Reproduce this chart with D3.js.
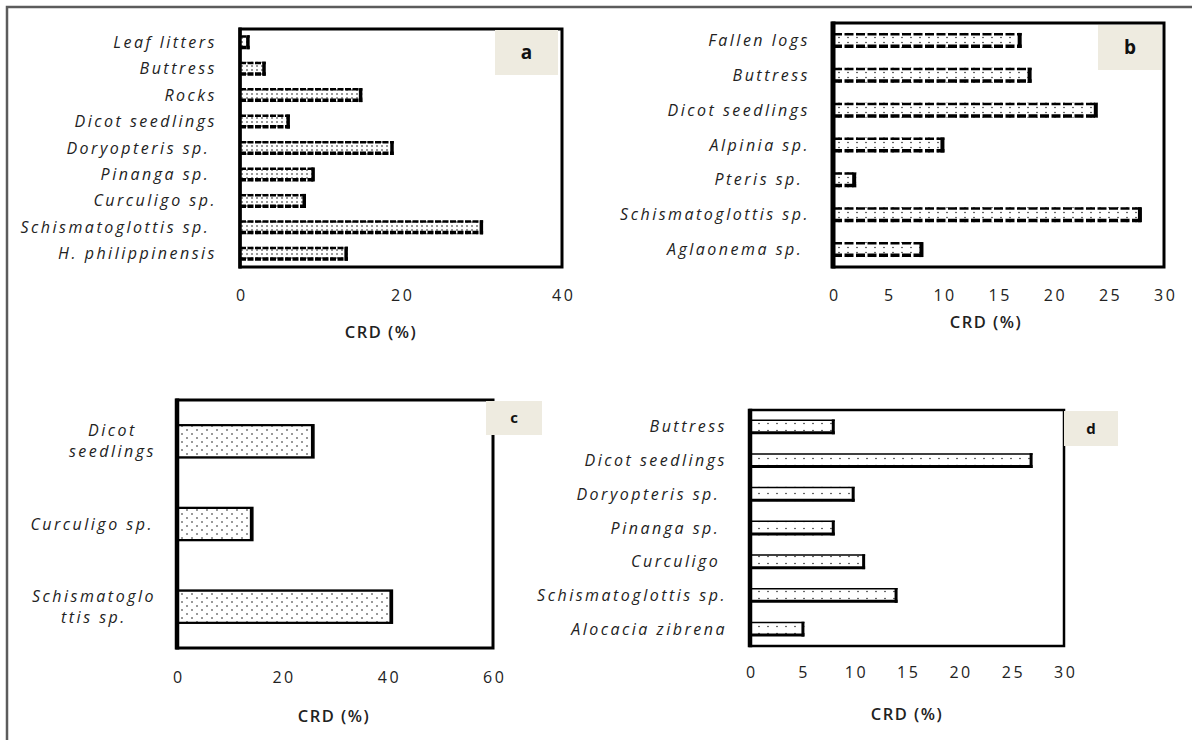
<!DOCTYPE html>
<html>
<head>
<meta charset="utf-8">
<script src="https://cdn.jsdelivr.net/npm/d3@7"></script>
<style>
body { margin: 0; background: #fff; }
text { font-family: "Open Sans", sans-serif; }
.cat { font-style: italic; font-size: 17px; letter-spacing: 1.2px; fill: #333; white-space: pre; }
.tick text { font-size: 16px; letter-spacing: 2.5px; fill: #222; }
.ttl { font-size: 16.5px; font-weight: 600; letter-spacing: 1.5px; fill: #222; }
</style>
</head>
<body>
<svg id="chart" width="1192" height="740"></svg>
<script>
// panel a
var catsA = ["Leaf litters", "Buttress", "Rocks", "Dicot seedlings", "Doryopteris sp. ", "Pinanga sp. ", "Curculigo sp.", "Schismatoglottis sp. ", "H. philippinensis"];
var valsA = [1.2, 3.2, 15.2, 6.2, 19.1, 9.3, 8.2, 30.2, 13.4];
var ticksA = [0, 20, 40];

// panel b
var catsB = ["Fallen logs", "Buttress", "Dicot seedlings", "Alpinia sp.", "Pteris sp. ", "Schismatoglottis sp.", "Aglaonema sp. "];
var valsB = [17.1, 18.0, 24.0, 10.1, 2.1, 28.0, 8.2];
var ticksB = [0, 5, 10, 15, 20, 25, 30];

// panel c (labels wrap onto two lines)
var catsC = [["Dicot", "seedlings"], ["Curculigo sp."], ["Schismatoglo", "ttis sp."]];
var valsC = [26.0, 14.4, 40.9];
var ticksC = [0, 20, 40, 60];

// panel d
var catsD = ["Buttress", "Dicot seedlings", "Doryopteris sp. ", "Pinanga sp. ", "Curculigo ", "Schismatoglottis sp.", "Alocacia zibrena"];
var valsD = [8.1, 27.0, 10.0, 8.1, 11.0, 14.1, 5.2];
var ticksD = [0, 5, 10, 15, 20, 25, 30];

var svg = d3.select("#chart");

// fill patterns, one per panel
var defs = svg.append("defs");
function dots(id, w, h, pts, r) {
    var p = defs.append("pattern").attr("id", id)
        .attr("patternUnits", "userSpaceOnUse")
        .attr("width", w).attr("height", h);
    p.append("rect").attr("width", w).attr("height", h).attr("fill", "#fff");
    pts.forEach(function (q) {
        p.append("circle").attr("cx", q[0]).attr("cy", q[1]).attr("r", r).attr("fill", "#000");
    });
}
dots("patA", 5, 4, [[2, 2]], 0.75);
dots("patB", 9, 5, [[2, 2.5]], 0.7);
dots("patC", 10, 8, [[2, 2], [7, 6]], 0.75);
dots("patD", 9, 7, [[3, 3.5]], 0.7);

// outer frame (top and left only)
svg.append("path").attr("d", "M7,740V7H1192")
    .attr("fill", "none").attr("stroke", "#5c5c5c").attr("stroke-width", 2.5);

var panels = [
    {cats: catsA, vals: valsA, ticks: ticksA, max: 40, x0: 240, x1: 562, y0: 29, y1: 267, pad: 0.47,
     tickY: 301, titleX: 381, titleY: 338, tag: "a", tagBox: [495, 30, 63, 45], tagSize: 19,
     pat: "patA", top: 2.5, bottom: 3.5, right: 3.5, dash: "6,1.5", outline: 0, boxW: 3, leftW: 3.5},
    {cats: catsB, vals: valsB, ticks: ticksB, max: 30, x0: 833, x1: 1164, y0: 23, y1: 267, pad: 0.57,
     tickY: 301, titleX: 986, titleY: 328, tag: "b", tagBox: [1098, 25, 64, 45], tagSize: 19,
     pat: "patB", top: 2.5, bottom: 3.5, right: 4, dash: "9,2.5", outline: 0, boxW: 3, leftW: 5},
    {cats: catsC, vals: valsC, ticks: ticksC, max: 60, x0: 177, x1: 493, y0: 400, y1: 648, pad: 0.6,
     tickY: 683, titleX: 334, titleY: 722, tag: "c", tagBox: [486, 401, 56, 34], tagSize: 15,
     pat: "patC", top: 1.5, bottom: 1.5, right: 3, dash: null, outline: 1.5, boxW: 3, leftW: 4.5},
    {cats: catsD, vals: valsD, ticks: ticksD, max: 30, x0: 750, x1: 1064, y0: 410, y1: 646, pad: 0.56,
     tickY: 678, titleX: 907, titleY: 720, tag: "d", tagBox: [1064, 411, 54, 35], tagSize: 15,
     pat: "patD", top: 1.5, bottom: 3, right: 3, dash: null, outline: 0, boxW: 2.5, leftW: 4.5}
];

panels.forEach(function (p) {
    var g = svg.append("g");
    var idx = d3.range(p.cats.length);
    var x = d3.scaleLinear().domain([0, p.max]).range([p.x0, p.x1]);
    var y = d3.scaleBand().domain(idx).range([p.y0, p.y1])
        .paddingInner(p.pad).paddingOuter(p.pad / 2);

    // plot box
    g.append("rect").attr("x", p.x0).attr("y", p.y0)
        .attr("width", p.x1 - p.x0).attr("height", p.y1 - p.y0)
        .attr("fill", "none").attr("stroke", "#000").attr("stroke-width", p.boxW);

    // bars
    var data = idx.map(function (i) { return {k: i, v: p.vals[i]}; });
    var bw = y.bandwidth();
    var bars = g.selectAll(".bar").data(data).join("g").attr("class", "bar");
    bars.append("rect")
        .attr("x", x(0)).attr("y", function (d) { return y(d.k); })
        .attr("width", function (d) { return x(d.v) - x(0); })
        .attr("height", bw)
        .attr("fill", "url(#" + p.pat + ")")
        .attr("stroke", p.outline ? "#000" : "none")
        .attr("stroke-width", p.outline);
    bars.append("line")
        .attr("x1", x(0)).attr("x2", function (d) { return x(d.v); })
        .attr("y1", function (d) { return y(d.k) + p.top / 2; })
        .attr("y2", function (d) { return y(d.k) + p.top / 2; })
        .attr("stroke", "#000").attr("stroke-width", p.top)
        .attr("stroke-dasharray", p.dash);
    bars.append("line")
        .attr("x1", x(0)).attr("x2", function (d) { return x(d.v); })
        .attr("y1", function (d) { return y(d.k) + bw - p.bottom / 2; })
        .attr("y2", function (d) { return y(d.k) + bw - p.bottom / 2; })
        .attr("stroke", "#000").attr("stroke-width", p.bottom)
        .attr("stroke-dasharray", p.dash);
    bars.append("line")
        .attr("x1", function (d) { return x(d.v) - p.right / 2; })
        .attr("x2", function (d) { return x(d.v) - p.right / 2; })
        .attr("y1", function (d) { return y(d.k); })
        .attr("y2", function (d) { return y(d.k) + bw; })
        .attr("stroke", "#000").attr("stroke-width", p.right);

    // thick left axis line
    g.append("line").attr("x1", p.x0).attr("x2", p.x0)
        .attr("y1", p.y0 - p.boxW / 2).attr("y2", p.y1 + p.boxW / 2)
        .attr("stroke", "#000").attr("stroke-width", p.leftW);

    // x axis tick labels
    var xa = g.append("g").attr("transform", "translate(0," + p.y1 + ")")
        .call(d3.axisBottom(x).tickValues(p.ticks).tickSize(0).tickFormat(d3.format("d")));
    xa.select(".domain").remove();
    xa.selectAll("text").attr("y", p.tickY - p.y1).attr("dy", 0).attr("dx", 1.25)
        .attr("font-family", null).attr("font-size", null);

    // category labels
    var ya = g.append("g").attr("transform", "translate(" + p.x0 + ",0)")
        .call(d3.axisLeft(y).tickSize(0).tickPadding(23).tickFormat(function (i) { return ""; }));
    ya.select(".domain").remove();
    ya.selectAll(".tick").each(function (i) {
        var t = d3.select(this).select("text")
            .attr("class", "cat").attr("font-family", null).attr("font-size", null)
            .attr("dy", null).attr("fill", null);
        var lines = Array.isArray(p.cats[i]) ? p.cats[i] : [p.cats[i]];
        if (lines.length === 1) {
            t.attr("y", 5.5).text(lines[0]);
            return;
        }
        // wrapped label: block right-aligned, lines centered in the block
        t.attr("text-anchor", "middle");
        var sp = t.selectAll("tspan").data(lines).join("tspan")
            .attr("y", function (l, j) { return 5.5 + (j - (lines.length - 1) / 2) * 21; })
            .text(function (l) { return l; });
        var w = 0;
        sp.each(function () { w = Math.max(w, this.getComputedTextLength()); });
        sp.attr("x", -21 - w / 2);
    });

    // axis title
    g.append("text").attr("class", "ttl").attr("x", p.titleX).attr("y", p.titleY)
        .attr("text-anchor", "middle").text("CRD (%)");

    // panel tag
    g.append("rect").attr("x", p.tagBox[0]).attr("y", p.tagBox[1])
        .attr("width", p.tagBox[2]).attr("height", p.tagBox[3]).attr("fill", "#eeebe0");
    g.append("text").attr("x", p.tagBox[0] + p.tagBox[2] / 2)
        .attr("y", p.tagBox[1] + p.tagBox[3] / 2 + p.tagSize * 0.36)
        .attr("text-anchor", "middle").attr("font-weight", 700)
        .attr("font-size", p.tagSize).attr("fill", "#111").text(p.tag);
});
</script>
</body>
</html>
